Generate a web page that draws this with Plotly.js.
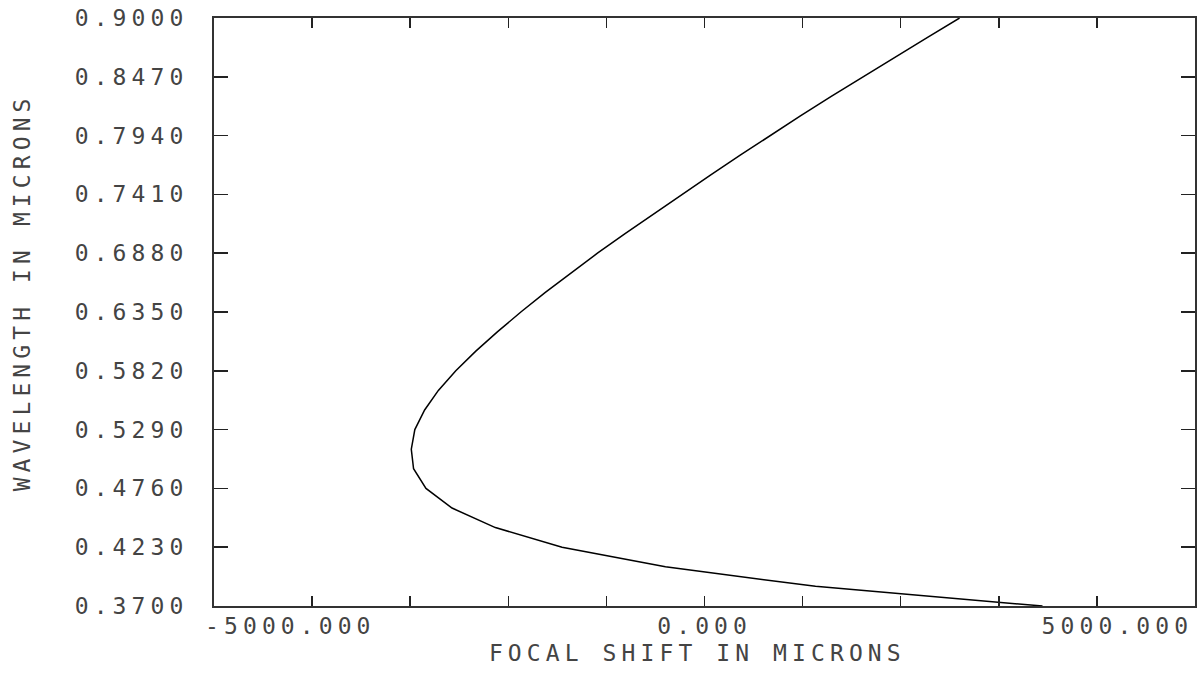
<!DOCTYPE html>
<html>
<head>
<meta charset="utf-8">
<script src="https://cdn.plot.ly/plotly-3.0.1.min.js"></script>
<style>
  html, body { margin: 0; padding: 0; background: #fff; }
  #chart { width: 1203px; height: 675px; }
  .main-svg text { letter-spacing: 5.1px; }
</style>
</head>
<body>
<div id="chart"></div>
<script>
// Wavelength samples (microns)
const wavelength = [0.3700, 0.3877, 0.4053, 0.4230, 0.4407, 0.4583, 0.4760, 0.4937, 0.5113, 0.5290,
                    0.5467, 0.5643, 0.5820, 0.5997, 0.6173, 0.6350, 0.6527, 0.6703, 0.6880, 0.7057,
                    0.7233, 0.7410, 0.7587, 0.7763, 0.7940, 0.8117, 0.8293, 0.8470, 0.8647, 0.8823,
                    0.9000];
// Focal shift (microns)
const focalShift = [4307, 1414, -498, -1815, -2665, -3217, -3549, -3707, -3736, -3691,
                    -3566, -3391, -3169, -2914, -2636, -2340, -2028, -1702, -1364, -1012,
                    -654, -290, 80, 455, 835, 1222, 1615, 2018, 2426, 2837,
                    3250];

const yTickVals = [0.370, 0.423, 0.476, 0.529, 0.582, 0.635, 0.688, 0.741, 0.794, 0.847, 0.900];
const yTickText = ["0.3700", "0.4230", "0.4760", "0.5290", "0.5820", "0.6350", "0.6880", "0.7410", "0.7940", "0.8470", "0.9000"];
const xTickVals = [-6250, -5000, -3750, -2500, -1250, 0, 1250, 2500, 3750, 5000, 6250];
const xLabelVals = [-5000, 0, 5000];
const xLabelText = ["-5000.000", "0.000", "5000.000"];
const xLabelShift = [-22, 0, 21];

const xTitle = "FOCAL SHIFT IN MICRONS";
const yTitle = "WAVELENGTH IN MICRONS";

const FONT = "DejaVu Sans Mono";
const TXT = "#444";

const annotations = xLabelVals.map((v, i) => ({
  x: v, xref: 'x', y: 0, yref: 'paper',
  text: xLabelText[i], showarrow: false,
  xanchor: 'center', yanchor: 'middle',
  xshift: xLabelShift[i], yshift: -19.5,
  font: {family: FONT, size: 23, color: TXT}
}));
annotations.push({
  x: 0.4924, xref: 'paper', y: 0, yref: 'paper',
  text: xTitle, showarrow: false, xanchor: 'center', yanchor: 'middle',
  yshift: -47, font: {family: FONT, size: 23, color: TXT}
});
annotations.push({
  x: -0.1952, xref: 'paper', y: 0.5335, yref: 'paper',
  text: yTitle, showarrow: false, xanchor: 'center', yanchor: 'middle',
  textangle: -90, font: {family: FONT, size: 23, color: TXT}
});

const trace = {
  x: focalShift, y: wavelength, type: 'scatter', mode: 'lines',
  line: {color: '#000', width: 1.5}, hoverinfo: 'skip'
};

const layout = {
  width: 1203, height: 675,
  margin: {l: 214, r: 8, t: 18, b: 69, pad: 0},
  paper_bgcolor: '#fff', plot_bgcolor: '#fff',
  showlegend: false,
  xaxis: {
    range: [-6250, 6250], tickmode: 'array', tickvals: xTickVals,
    showticklabels: false, ticks: 'inside', ticklen: 10, tickwidth: 1.5, tickcolor: '#222',
    showline: true, linecolor: '#333', linewidth: 2, mirror: 'ticks',
    showgrid: false, zeroline: false, fixedrange: true
  },
  yaxis: {
    range: [0.37, 0.9], tickmode: 'array', tickvals: yTickVals, ticktext: yTickText,
    ticks: 'inside', ticklen: 14, tickwidth: 1.5, tickcolor: '#222',
    ticklabelstandoff: 19,
    tickfont: {family: FONT, size: 23, color: TXT},
    showline: true, linecolor: '#333', linewidth: 2, mirror: 'ticks',
    showgrid: false, zeroline: false, fixedrange: true
  },
  annotations: annotations
};

Plotly.newPlot('chart', [trace], layout, {displayModeBar: false, staticPlot: true});
</script>
</body>
</html>
